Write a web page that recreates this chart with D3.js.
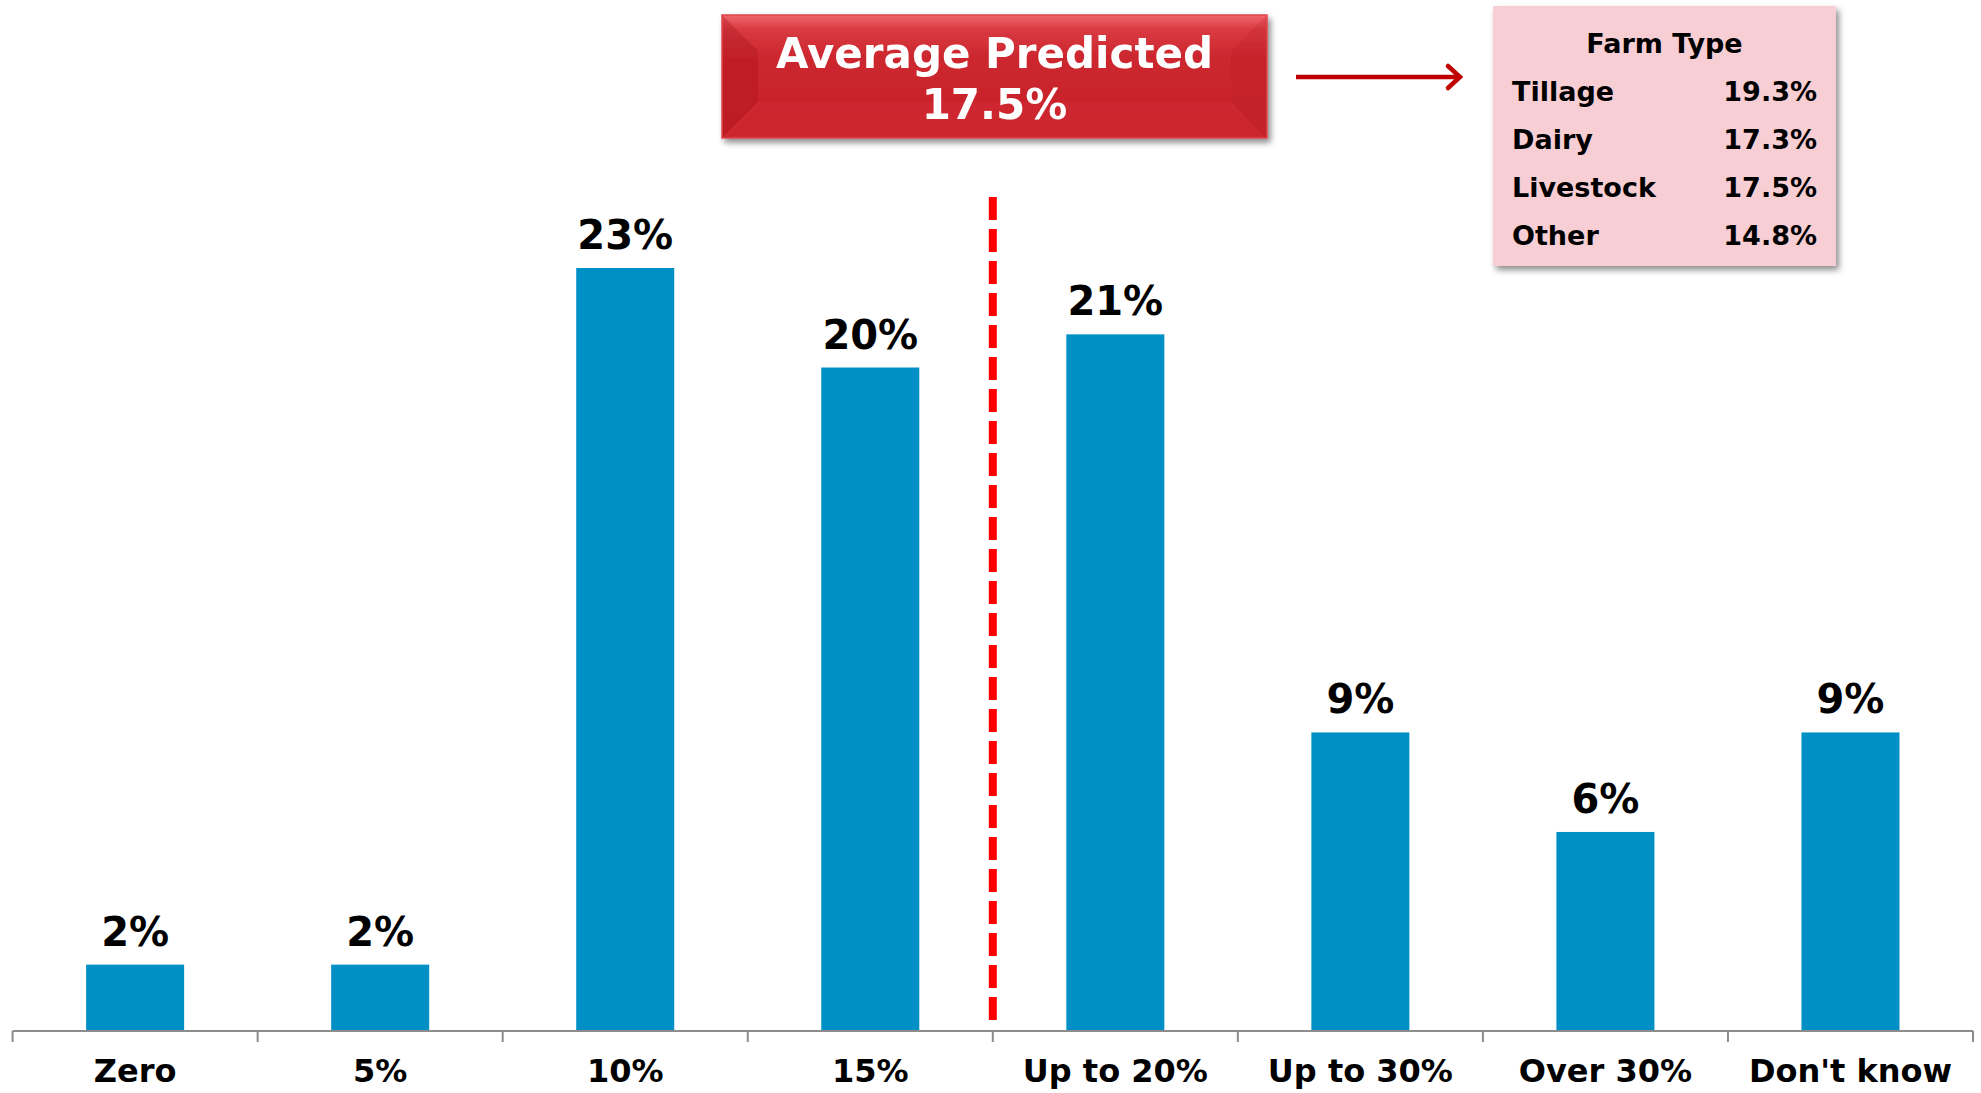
<!DOCTYPE html>
<html>
<head>
<meta charset="utf-8">
<script src="https://cdn.jsdelivr.net/npm/d3@7"></script>
<style>
  html, body { margin: 0; padding: 0; background: #ffffff; }
  svg { display: block; font-family: "DejaVu Sans", Verdana, sans-serif; }
</style>
</head>
<body>
<div id="chart"></div>
<script>
const categories = ["Zero", "5%", "10%", "15%", "Up to 20%", "Up to 30%", "Over 30%", "Don't know"];
const values = [2, 2, 23, 20, 21, 9, 6, 9];
const valueLabels = ["2%", "2%", "23%", "20%", "21%", "9%", "6%", "9%"];
const averageTitle = "Average Predicted";
const averageValue = "17.5%";
const legendTitle = "Farm Type";
const farmTypes = ["Tillage", "Dairy", "Livestock", "Other"];
const farmValues = ["19.3%", "17.3%", "17.5%", "14.8%"];

const W = 1981, H = 1093;
const svg = d3.select("#chart").append("svg").attr("width", W).attr("height", H);
const defs = svg.append("defs");

const x = d3.scaleBand().domain(categories).range([12.6, 1973]).paddingInner(0.6).paddingOuter(0.3);
const y = d3.scaleLinear().domain([0, 23]).range([1031, 268]);

// bars
svg.selectAll("rect.bar").data(values).join("rect")
  .attr("class", "bar")
  .attr("x", (d, i) => x(categories[i]))
  .attr("width", x.bandwidth())
  .attr("y", d => y(d))
  .attr("height", d => y(0) - y(d))
  .attr("fill", "#0090c6");

// value labels
svg.selectAll("text.val").data(values).join("text")
  .attr("class", "val")
  .attr("x", (d, i) => x(categories[i]) + x.bandwidth() / 2)
  .attr("y", d => y(d) - 19)
  .attr("text-anchor", "middle")
  .attr("font-weight", "bold")
  .attr("font-size", 40)
  .attr("fill", "#000")
  .text((d, i) => valueLabels[i]);

// axis
const axisG = svg.append("g");
const r0 = x.range()[0], r1 = x.range()[1];
axisG.append("line").attr("x1", r0).attr("x2", r1).attr("y1", y(0)).attr("y2", y(0))
  .attr("stroke", "#8c8c8c").attr("stroke-width", 2);
const bounds = d3.range(categories.length + 1).map(i => r0 + i * x.step());
axisG.selectAll("line.tick").data(bounds).join("line")
  .attr("class", "tick")
  .attr("x1", d => d).attr("x2", d => d)
  .attr("y1", y(0)).attr("y2", y(0) + 11)
  .attr("stroke", "#8c8c8c").attr("stroke-width", 2);
axisG.selectAll("text.cat").data(categories).join("text")
  .attr("class", "cat")
  .attr("x", d => x(d) + x.bandwidth() / 2)
  .attr("y", 1082)
  .attr("text-anchor", "middle")
  .attr("font-weight", "bold")
  .attr("font-size", 32)
  .attr("fill", "#000")
  .text(d => d);

// dashed average line between 15% and Up to 20%
const avgX = r0 + 4 * x.step();
svg.append("line")
  .attr("x1", avgX).attr("x2", avgX)
  .attr("y1", 197).attr("y2", 1022)
  .attr("stroke", "#ff0000").attr("stroke-width", 8)
  .attr("stroke-dasharray", "23 9");

// shadow filter
const f = defs.append("filter").attr("id", "shadow").attr("x", "-10%").attr("y", "-10%").attr("width", "125%").attr("height", "130%");
f.append("feGaussianBlur").attr("in", "SourceAlpha").attr("stdDeviation", 3);
f.append("feOffset").attr("dx", 3).attr("dy", 4).attr("result", "ob");
f.append("feComponentTransfer").append("feFuncA").attr("type", "linear").attr("slope", 0.45);
const fm = f.append("feMerge");
fm.append("feMergeNode");
fm.append("feMergeNode").attr("in", "SourceGraphic");

// red box
const bx = 722, by = 15, bw = 545, bh = 123, bev = 36;
const grad = defs.append("linearGradient").attr("id", "redGrad").attr("x1", 0).attr("y1", 0).attr("x2", 0).attr("y2", 1);
grad.append("stop").attr("offset", "0%").attr("stop-color", "#f0656b");
grad.append("stop").attr("offset", "12%").attr("stop-color", "#d93a41");
grad.append("stop").attr("offset", "35%").attr("stop-color", "#cc262e");
grad.append("stop").attr("offset", "100%").attr("stop-color", "#c7222a");
const box = svg.append("g").attr("filter", "url(#shadow)");
box.append("rect").attr("x", bx).attr("y", by).attr("width", bw).attr("height", bh).attr("fill", "url(#redGrad)");
box.append("path")
  .attr("d", `M${bx},${by} L${bx + bev},${by + bev} L${bx + bev},${by + bh - bev} L${bx},${by + bh} Z`)
  .attr("fill", "#a8141c").attr("opacity", 0.35);
box.append("path")
  .attr("d", `M${bx + bw},${by} L${bx + bw - bev},${by + bev} L${bx + bw - bev},${by + bh - bev} L${bx + bw},${by + bh} Z`)
  .attr("fill", "#b51a22").attr("opacity", 0.2);
box.append("path")
  .attr("d", `M${bx},${by + bh} L${bx + bev},${by + bh - bev} L${bx + bw - bev},${by + bh - bev} L${bx + bw},${by + bh} Z`)
  .attr("fill", "#d42b33").attr("opacity", 0.5);
box.append("rect").attr("x", bx).attr("y", by).attr("width", bw).attr("height", bh)
  .attr("fill", "none").attr("stroke", "#e0464d").attr("stroke-width", 1.5);
box.append("text").attr("x", bx + bw / 2).attr("y", 68).attr("text-anchor", "middle")
  .attr("font-weight", "bold").attr("font-size", 42).attr("fill", "#fff").text(averageTitle);
box.append("text").attr("x", bx + bw / 2).attr("y", 119).attr("text-anchor", "middle")
  .attr("font-weight", "bold").attr("font-size", 42).attr("fill", "#fff").text(averageValue);

// arrow
svg.append("line").attr("x1", 1296).attr("x2", 1458).attr("y1", 77).attr("y2", 77)
  .attr("stroke", "#c00000").attr("stroke-width", 4.5);
svg.append("path").attr("d", "M1448,66 L1460,77 L1448,88")
  .attr("fill", "none").attr("stroke", "#c00000").attr("stroke-width", 4.5).attr("stroke-linecap", "round");

// legend box
const lx = 1493, ly = 6, lw = 343, lh = 260;
const lg = svg.append("g");
lg.append("rect").attr("x", lx).attr("y", ly).attr("width", lw).attr("height", lh)
  .attr("fill", "#f7ced3").attr("filter", "url(#shadow)");
lg.append("text").attr("x", lx + lw / 2).attr("y", 53).attr("text-anchor", "middle")
  .attr("font-weight", "bold").attr("font-size", 27).attr("fill", "#000").text(legendTitle);
lg.selectAll("text.ft").data(farmTypes).join("text").attr("class", "ft")
  .attr("x", 1512).attr("y", (d, i) => 101 + i * 48)
  .attr("font-weight", "bold").attr("font-size", 27).attr("fill", "#000").text(d => d);
lg.selectAll("text.fv").data(farmValues).join("text").attr("class", "fv")
  .attr("x", 1817).attr("y", (d, i) => 101 + i * 48).attr("text-anchor", "end")
  .attr("font-weight", "bold").attr("font-size", 27).attr("fill", "#000").text(d => d);
</script>
</body>
</html>
